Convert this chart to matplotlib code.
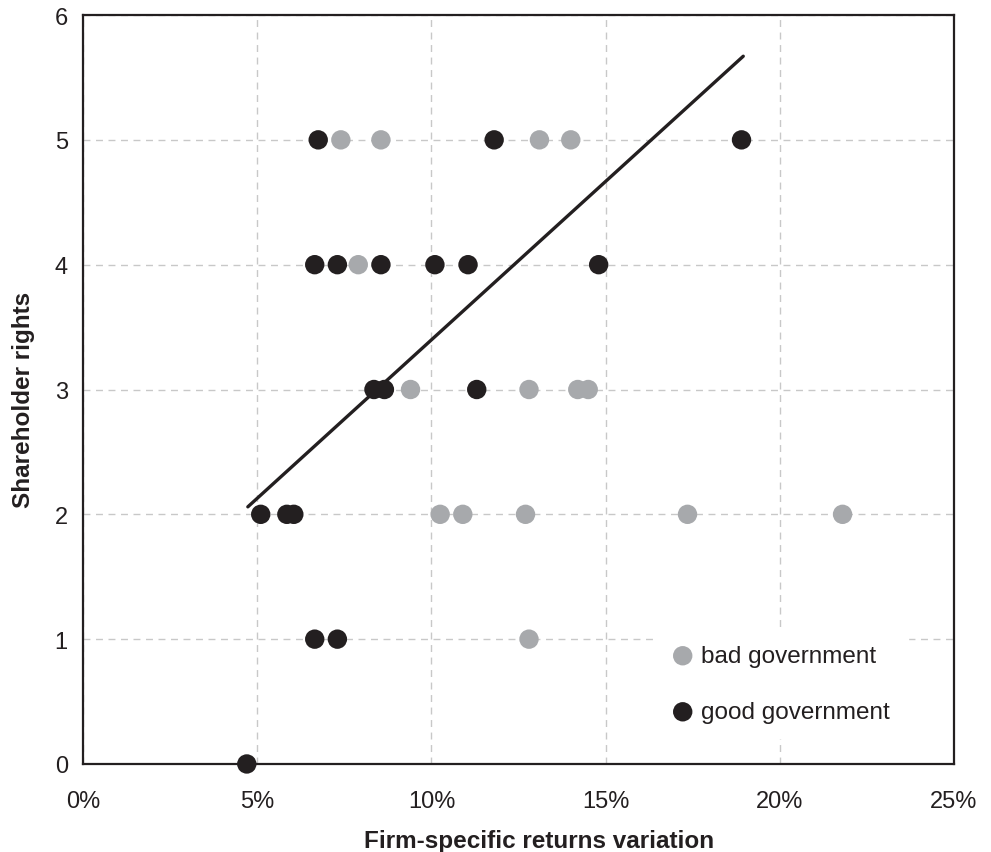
import matplotlib.pyplot as plt
from matplotlib.ticker import FuncFormatter

plt.rcParams['font.family'] = ['Liberation Sans', 'DejaVu Sans']

# firm-specific returns variation (%) and shareholder rights score
bad_x = [7.4, 8.55, 13.1, 14.0, 7.9, 9.4, 12.8, 14.2, 14.5,
         10.25, 10.9, 12.7, 17.35, 21.8, 12.8]
bad_y = [5, 5, 5, 5, 4, 3, 3, 3, 3,
         2, 2, 2, 2, 2, 1]

good_x = [6.75, 11.8, 18.9, 6.65, 7.3, 8.55, 10.1, 11.05, 14.8,
          8.35, 8.65, 11.3, 5.1, 5.85, 6.05, 6.65, 7.3, 4.7]
good_y = [5, 5, 5, 4, 4, 4, 4, 4, 4,
          3, 3, 3, 2, 2, 2, 1, 1, 0]

trend_x = [4.73, 18.95]
trend_y = [2.06, 5.67]

dark = '#231f20'
grey = '#a7a9ac'

fig = plt.figure(figsize=(9.91, 8.53), dpi=100)
ax = fig.add_axes([0.0838, 0.1032, 0.8789, 0.878])

ax.plot(trend_x, trend_y, color=dark, lw=2.4, zorder=3, solid_capstyle='round')
ax.scatter(bad_x, bad_y, s=195, color=grey, edgecolors='none', zorder=4,
           label='bad government', clip_on=False)
ax.scatter(good_x, good_y, s=195, color=dark, edgecolors='none', zorder=5,
           label='good government', clip_on=False)

ax.set_xlim(0, 25)
ax.set_ylim(0, 6)
ax.set_xticks([0, 5, 10, 15, 20, 25])
ax.set_yticks(range(7))
ax.xaxis.set_major_formatter(FuncFormatter(lambda v, p: f'{v:.0f}%'))
ax.grid(True, color='#c8c8c8', lw=1.0, ls=(0, (5, 4)))
ax.set_axisbelow(True)

for s in ax.spines.values():
    s.set_color(dark)
    s.set_linewidth(1.6)
ax.tick_params(length=0, labelsize=17, colors=dark)
ax.tick_params(axis='x', pad=19)
ax.tick_params(axis='y', pad=11)

ax.set_xlabel('Firm-specific returns variation', fontsize=17.5, fontweight='bold',
              color=dark, labelpad=12)
ax.set_ylabel('Shareholder rights', fontsize=17.5, fontweight='bold',
              color=dark, labelpad=14)
ax.xaxis.label.set_x(0.523)
ax.yaxis.label.set_y(0.487)

leg = ax.legend(loc='lower left', bbox_to_anchor=(0.655, 0.035, 0.292, 0.14),
                mode='expand', borderaxespad=0, frameon=True, fancybox=False,
                framealpha=1, edgecolor='white', facecolor='white', fontsize=17.5,
                labelspacing=1.4, handletextpad=0.15, borderpad=0.6,
                handlelength=1.2, scatterpoints=1)
leg.set_zorder(6)
for t in leg.get_texts():
    t.set_color(dark)

fig.savefig('out.png', dpi=100)
